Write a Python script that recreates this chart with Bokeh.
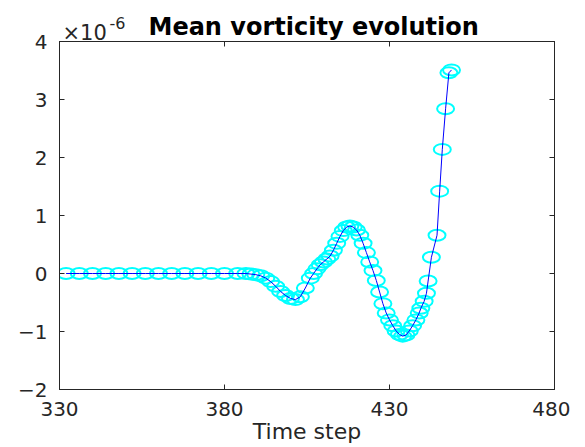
from bokeh.plotting import figure
from bokeh.models import FixedTicker, LinearAxis, Range1d, CustomLabelingPolicy, Title
from bokeh.embed import file_html
from bokeh.resources import INLINE

# Time steps (x) and mean vorticity (units of 1e-6)
time_steps = [332, 336, 340, 344, 348, 352, 356, 360, 364, 368, 372, 376, 380, 384,
              386.5, 388, 389.5, 391, 392.5, 394, 395.5, 397, 398.5, 400, 401.5, 403,
              404.5, 406, 407, 408, 409, 410, 411, 412, 413, 414, 415, 416, 417, 418,
              419, 420, 421, 422, 423, 424, 425, 426, 427, 428, 429, 430, 431, 432,
              433, 434, 435, 436, 437, 438, 439, 439.5, 440.5, 441.2, 441.7, 442.7,
              444.4, 445.2, 446, 447, 448, 448.8]
mean_vorticity = [0, 0, 0, 0, 0, 0, 0, 0, 0, 0, 0, 0, 0, 0,
                  0.0, -0.01, -0.02, -0.04, -0.08, -0.14, -0.22, -0.31, -0.38, -0.43, -0.45, -0.40,
                  -0.25, -0.08, 0.0, 0.08, 0.15, 0.20, 0.25, 0.30, 0.40, 0.52, 0.64, 0.74, 0.80, 0.82,
                  0.80, 0.75, 0.66, 0.52, 0.36, 0.20, 0.05, -0.12, -0.32, -0.52, -0.68, -0.80, -0.90, -0.99,
                  -1.05, -1.08, -1.06, -0.99, -0.90, -0.80, -0.68, -0.60, -0.48, -0.34, -0.13, 0.28,
                  0.66, 1.42, 2.14, 2.84, 3.46, 3.51]

x_ticks = [330, 380, 430, 480]
y_ticks = [-2, -1, 0, 1, 2, 3, 4]
exponent_base = "×10"
exponent_power = "-6"

FONT = "DejaVu Sans"
AXCOL = "#262626"

p = figure(frame_width=495, frame_height=348, output_backend="svg", toolbar_location=None,
           x_range=Range1d(330, 480), y_range=Range1d(-2, 4),
           min_border_left=59, min_border_right=16, min_border_top=41, min_border_bottom=56,
           title="Mean vorticity evolution")

# main title: zero-height row, drawn down into the row of the exponent
p.title.align = "left"
p.title.offset = 89
p.title.text_font = FONT
p.title.text_font_style = "bold"
p.title.text_font_size = "24px"
p.title.text_color = "black"
p.title.vertical_align = "bottom"
p.title.standoff = -29.5

p.xgrid.visible = False
p.ygrid.visible = False
p.outline_line_color = AXCOL
p.background_fill_color = "white"
p.border_fill_color = "white"

hide_labels = CustomLabelingPolicy(code="""
try {
  const all = [...indices];
  for (const i of all) { indices.unset(i); }
} catch (e) {}
return indices;
""")


def style_axis(ax, ticks, show_labels=True):
    ax.ticker = FixedTicker(ticks=ticks)
    ax.axis_line_color = AXCOL
    ax.major_tick_line_color = AXCOL
    ax.major_tick_in = 5
    ax.major_tick_out = 0
    ax.minor_tick_line_color = None
    ax.major_label_text_font = FONT
    ax.major_label_text_color = AXCOL
    if show_labels:
        ax.major_label_text_font_size = "20px"
        ax.major_label_standoff = 12
    else:
        ax.major_label_text_font_size = "0px"
        ax.major_label_standoff = 0
        ax.major_label_policy = hide_labels


style_axis(p.xaxis[0], x_ticks)
style_axis(p.yaxis[0], y_ticks)
p.xaxis[0].axis_label = "Time step"
p.xaxis[0].axis_label_text_font = FONT
p.xaxis[0].axis_label_text_font_style = "normal"
p.xaxis[0].axis_label_text_font_size = "22px"
p.xaxis[0].axis_label_text_color = AXCOL
p.xaxis[0].axis_label_standoff = 0

top_ax = LinearAxis()
style_axis(top_ax, x_ticks, show_labels=False)
p.add_layout(top_ax, "above")
right_ax = LinearAxis()
style_axis(right_ax, y_ticks, show_labels=False)
p.add_layout(right_ax, "right")

# axis exponent "×10^-6", above the top-left corner of the axes
exp_base = Title(text=exponent_base, align="left", offset=3, vertical_align="top",
                 standoff=-11, text_font=FONT, text_font_size="21px",
                 text_font_style="normal", text_color=AXCOL)
p.add_layout(exp_base, "above")
exp_power = Title(text=exponent_power, align="left", offset=50, vertical_align="top",
                  standoff=-19.6, text_font=FONT, text_font_size="16px",
                  text_font_style="normal", text_color=AXCOL)
p.add_layout(exp_power, "above")

p.ellipse(x=time_steps, y=mean_vorticity, width=17, height=11,
          width_units="screen", height_units="screen",
          fill_color=None, line_color="#00FFFF", line_width=2)
p.line(x=time_steps, y=mean_vorticity, line_color="#0000FF", line_width=1)

open("out.html", "w").write(file_html(p, INLINE))
